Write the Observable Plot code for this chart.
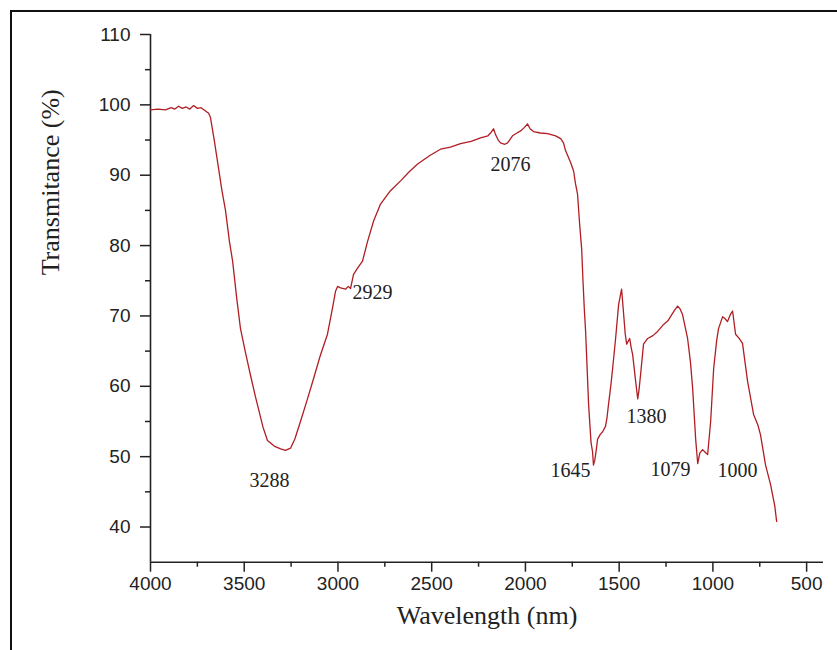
<!DOCTYPE html>
<html>
<head>
<meta charset="utf-8">
<script src="https://cdn.jsdelivr.net/npm/d3@7"></script>
<script src="https://cdn.jsdelivr.net/npm/@observablehq/plot@0.6"></script>
<style>
  html, body { margin: 0; padding: 0; background: #fff; overflow: hidden; }
  #wrap { position: relative; width: 837px; height: 650px; }
  #frame { position: absolute; left: 10px; top: 10px; width: 900px; height: 700px;
           border-top: 2px solid #111; border-left: 2px solid #111; pointer-events: none; }
</style>
</head>
<body>
<div id="wrap"><div id="chart"></div><div id="frame"></div></div>
<script>
// Spectrum
const wavenumber = [4000,3960,3920,3890,3870,3850,3830,3810,3790,3770,3750,3730,3710,3690,3680,3660,3640,3620,3600,3579,3562,3540,3520,3495,3466,3440,3424,3400,3376,3340,3306,3280,3253,3230,3200,3165,3130,3095,3056,3030,3013,3002,2986,2960,2945,2933,2917,2890,2869,2842,2810,2773,2720,2666,2620,2575,2510,2453,2400,2346,2290,2239,2200,2186,2170,2160,2145,2133,2110,2095,2069,2045,2026,2005,1989,1975,1957,1920,1882,1839,1812,1797,1786,1759,1743,1733,1722,1711,1700,1693,1686,1679,1663,1650,1642,1637,1630,1622,1615,1600,1589,1573,1565,1557,1545,1535,1519,1503,1487,1476,1468,1460,1444,1436,1428,1412,1401,1394,1386,1370,1348,1320,1295,1263,1240,1226,1205,1188,1175,1162,1135,1120,1108,1092,1081,1070,1055,1040,1028,1012,996,980,970,948,935,922,905,895,879,860,842,815,783,760,746,719,692,670,660];
const transmittance = [99.3,99.4,99.3,99.6,99.4,99.8,99.5,99.7,99.4,99.9,99.5,99.6,99.2,98.8,98.2,95.0,91.5,88.0,85.0,80.6,77.8,72.5,68.2,65.0,61.5,58.5,56.8,54.2,52.3,51.5,51.1,50.9,51.2,52.5,55.0,58.0,61.1,64.3,67.4,71.0,73.5,74.2,74.0,73.8,74.2,73.9,75.9,77.0,77.8,80.6,83.5,85.9,87.8,89.2,90.5,91.6,92.8,93.7,94.0,94.5,94.8,95.3,95.6,96.0,96.6,95.8,95.0,94.6,94.4,94.6,95.6,96.0,96.3,96.8,97.3,96.6,96.2,96.0,95.9,95.6,95.2,94.6,93.5,91.8,90.6,88.8,87.3,83.1,79.5,75.0,71.0,67.8,57.4,52.0,50.7,48.8,49.5,51.0,52.5,53.2,53.5,54.3,55.5,57.4,60.0,62.5,66.8,71.6,73.8,70.2,67.5,66.0,66.8,65.5,64.5,60.7,58.2,59.5,61.6,66.0,66.8,67.2,67.8,68.8,69.3,69.9,70.8,71.4,71.0,70.2,66.8,63.5,59.7,52.5,49.0,50.5,51.0,50.6,50.3,55.0,62.5,66.5,68.2,69.9,69.6,69.2,70.3,70.7,67.4,66.8,66.1,60.7,56.0,54.5,53.1,48.8,46.0,43.0,40.8];

// Peak annotations
const peakLabels = ["3288","2929","2076","1645","1380","1079","1000"];
const peakLabelX = [3365,2922,2080,1760,1354,1226,869];
const peakLabelY = [46.6,73.3,91.5,48.0,55.7,48.2,48.0];
const peakAnchor = ["middle","start","middle","middle","middle","middle","middle"];

// Ticks
const xMajor = [4000,3500,3000,2500,2000,1500,1000,500];
const xMinor = [3750,3250,2750,2250,1750,1250,750];
const yMajor = [40,50,60,70,80,90,100,110];
const yMinor = [45,55,65,75,85,95,105];

const xTitle = "Wavelength (nm)";
const yTitle = "Transmitance (%)";

const spectrum = wavenumber.map((w, i) => ({w, t: transmittance[i]}));
const peaks = peakLabels.map((s, i) => ({s, x: peakLabelX[i], y: peakLabelY[i], a: peakAnchor[i]}));

const serif = "'Liberation Serif', 'Times New Roman', serif";

const chart = Plot.plot({
  width: 837,
  height: 650,
  marginLeft: 150,
  marginRight: 14,
  marginTop: 34,
  marginBottom: 88.3,
  style: {fontFamily: "'Liberation Sans', Arial, sans-serif", background: "transparent", color: "#222", overflow: "visible"},
  x: {domain: [4000, 410]},
  y: {domain: [35, 110]},
  marks: [
    Plot.axisX({ticks: xMinor, tickSize: 5, text: null, label: null, strokeWidth: 1.5}),
    Plot.axisX({ticks: xMajor, tickSize: 10, tickPadding: 4, fontSize: 19, label: null, strokeWidth: 1.5, tickFormat: d => String(d)}),
    Plot.axisY({ticks: yMinor, tickSize: 5, text: null, label: null, strokeWidth: 1.5}),
    Plot.axisY({ticks: yMajor, tickSize: 10, tickPadding: 10, fontSize: 19, label: null, strokeWidth: 1.5}),
    Plot.ruleX([4000], {stroke: "#222", strokeWidth: 1.6}),
    Plot.ruleY([35], {stroke: "#222", strokeWidth: 1.6}),
    Plot.line(spectrum, {x: "w", y: "t", stroke: "#b01e23", strokeWidth: 1.3}),
    Plot.text(peaks.filter(d => d.a === "middle"), {x: "x", y: "y", text: "s", textAnchor: "middle", fontFamily: serif, fontSize: 20, fill: "#222"}),
    Plot.text(peaks.filter(d => d.a === "start"), {x: "x", y: "y", text: "s", textAnchor: "start", fontFamily: serif, fontSize: 20, fill: "#222"}),
    Plot.text([xTitle], {frameAnchor: "bottom", lineAnchor: "bottom", dy: 62, fontFamily: serif, fontSize: 26, fill: "#222"}),
    Plot.text([yTitle], {frameAnchor: "left", lineAnchor: "bottom", rotate: -90, dx: -92, dy: -23, fontFamily: serif, fontSize: 26, fill: "#222"})
  ]
});
document.getElementById("chart").appendChild(chart);
</script>
</body>
</html>
